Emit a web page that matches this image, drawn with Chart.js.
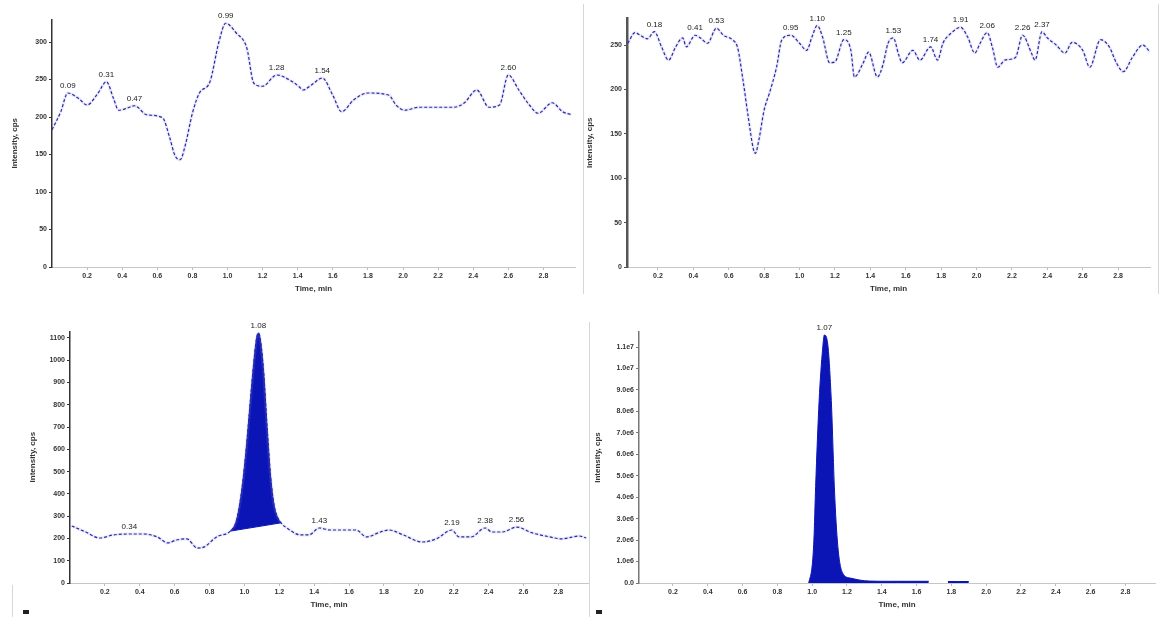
<!DOCTYPE html>
<html>
<head>
<meta charset="utf-8">
<title>Chromatograms</title>
<script src="https://cdn.jsdelivr.net/npm/chart.js@4.4.0/dist/chart.umd.min.js"></script>
<style>
  html, body { margin: 0; padding: 0; background: #fff; }
  body { width: 1160px; height: 617px; position: relative; overflow: hidden; }
  canvas { position: absolute; }
  .sep { position: absolute; width: 1px; background: #d6d6d6; }
  .mark { position: absolute; width: 6px; height: 4px; background: #222; }
</style>
</head>
<body>
<canvas id="c1" width="583" height="300" style="left:0;top:0"></canvas>
<canvas id="c2" width="577" height="300" style="left:583px;top:0"></canvas>
<canvas id="c3" width="590" height="317" style="left:0;top:300px"></canvas>
<canvas id="c4" width="570" height="317" style="left:590px;top:300px"></canvas>
<div class="sep" style="left:583px;top:4px;height:290px"></div>
<div class="sep" style="left:1158px;top:4px;height:290px"></div>
<div class="sep" style="left:589px;top:322px;height:295px"></div>
<div class="sep" style="left:12px;top:585px;height:32px"></div>
<div class="mark" style="left:23px;top:610px"></div>
<div class="mark" style="left:596px;top:610px"></div>
<script>
// Ticks del eje X (Time, min), comunes a los cuatro paneles
const xTicks = [0.2, 0.4, 0.6, 0.8, 1.0, 1.2, 1.4, 1.6, 1.8, 2.0, 2.2, 2.4, 2.6, 2.8];

// Panel 1 (arriba izquierda)
const p1Time = [0.00, 0.05, 0.09, 0.15, 0.20, 0.26, 0.31, 0.35, 0.38, 0.43, 0.47, 0.54, 0.63, 0.67, 0.70, 0.73, 0.76, 0.80, 0.84, 0.90, 0.95, 0.99, 1.05, 1.11, 1.15, 1.20, 1.28, 1.37, 1.41, 1.43, 1.48, 1.54, 1.60, 1.65, 1.72, 1.80, 1.92, 1.96, 2.01, 2.09, 2.29, 2.35, 2.42, 2.49, 2.55, 2.60, 2.66, 2.72, 2.77, 2.85, 2.91, 2.96];
const p1Int = [183, 207, 232, 225, 216, 231, 247, 225, 209, 212, 215, 203, 199, 173, 149, 143, 163, 205, 232, 247, 299, 325, 312, 292, 245, 241, 256, 247, 240, 236, 243, 252, 229, 207, 223, 232, 229, 216, 209, 213, 213, 219, 236, 213, 216, 256, 236, 216, 205, 219, 207, 203];
const p1Peaks = [0.09, 0.31, 0.47, 0.99, 1.28, 1.54, 2.60];
const y1Ticks = [0, 50, 100, 150, 200, 250, 300];

// Panel 2 (arriba derecha)
const p2Time = [0.03, 0.07, 0.10, 0.14, 0.18, 0.22, 0.26, 0.30, 0.34, 0.36, 0.41, 0.44, 0.48, 0.53, 0.57, 0.62, 0.65, 0.68, 0.71, 0.74, 0.75, 0.77, 0.80, 0.83, 0.87, 0.90, 0.95, 1.00, 1.04, 1.07, 1.10, 1.13, 1.17, 1.20, 1.25, 1.29, 1.31, 1.36, 1.39, 1.44, 1.47, 1.50, 1.53, 1.56, 1.58, 1.64, 1.68, 1.74, 1.78, 1.81, 1.86, 1.91, 1.95, 1.99, 2.02, 2.06, 2.09, 2.12, 2.16, 2.22, 2.26, 2.31, 2.33, 2.37, 2.40, 2.45, 2.50, 2.54, 2.60, 2.64, 2.70, 2.75, 2.79, 2.83, 2.88, 2.94, 2.98];
const p2Int = [252, 264, 261, 257, 265, 248, 233, 248, 258, 248, 261, 258, 252, 269, 261, 256, 247, 211, 169, 132, 128, 143, 177, 196, 225, 256, 261, 252, 244, 259, 272, 259, 230, 231, 256, 244, 214, 230, 242, 214, 227, 252, 258, 239, 230, 244, 233, 248, 233, 252, 264, 270, 259, 241, 252, 264, 247, 225, 233, 236, 261, 241, 233, 265, 258, 250, 241, 253, 244, 225, 256, 248, 230, 220, 236, 250, 242];
const p2Peaks = [0.18, 0.41, 0.53, 0.95, 1.10, 1.25, 1.53, 1.74, 1.91, 2.06, 2.26, 2.37];
const y2Ticks = [0, 50, 100, 150, 200, 250];

// Panel 3 (abajo izquierda) con pico integrado
const p3Time = [0.01, 0.09, 0.17, 0.25, 0.34, 0.42, 0.50, 0.56, 0.61, 0.67, 0.73, 0.77, 0.84, 0.92, 0.95, 0.97, 0.99, 1.01, 1.03, 1.05, 1.07, 1.08, 1.09, 1.11, 1.13, 1.15, 1.17, 1.19, 1.21, 1.26, 1.32, 1.37, 1.43, 1.49, 1.64, 1.70, 1.78, 1.83, 1.91, 2.02, 2.10, 2.19, 2.23, 2.30, 2.38, 2.42, 2.48, 2.56, 2.65, 2.75, 2.82, 2.92, 2.96];
const p3Int = [256, 229, 202, 216, 220, 220, 207, 180, 193, 198, 157, 162, 207, 233, 270, 340, 450, 600, 780, 960, 1100, 1122, 1100, 950, 700, 480, 350, 295, 270, 238, 216, 216, 247, 238, 238, 207, 229, 238, 216, 184, 198, 238, 207, 207, 247, 229, 229, 251, 225, 207, 198, 211, 202];
const p3Peaks = [0.34, 1.08, 1.43, 2.19, 2.38, 2.56];
const p3BaseTime = [0.92, 1.21];
const p3BaseInt = [233, 270];
const y3Ticks = [0, 100, 200, 300, 400, 500, 600, 700, 800, 900, 1000, 1100];

// Panel 4 (abajo derecha), null = tramo sin señal
const p4Time = [0.98, 1.00, 1.01, 1.02, 1.04, 1.06, 1.07, 1.09, 1.11, 1.13, 1.15, 1.18, 1.22, 1.27, 1.33, 1.45, 1.55, 1.67, 1.70, 1.78, 1.84, 1.90];
const p4Int = [0, 8.0e5, 2.0e6, 4.5e6, 8.5e6, 1.09e7, 1.156e7, 1.11e7, 8.5e6, 4.0e6, 1.5e6, 4.0e5, 2.3e5, 1.4e5, 9.0e4, 8.0e4, 8.0e4, 8.0e4, null, 7.0e4, 7.0e4, 7.0e4];
const p4Peaks = [1.07];
const y4Ticks = [0, 1e6, 2e6, 3e6, 4e6, 5e6, 6e6, 7e6, 8e6, 9e6, 1e7, 1.1e7];

const FAMILIA = '"Liberation Sans", Arial, sans-serif';
const AZUL_LINEA = '#2a2aa0';
const AZUL_PICO = '#0b15b5';

// Convierte dos listas en puntos {x, y}
function puntos(tiempos, valores) {
  return tiempos.map((t, i) => ({ x: t, y: valores[i] }));
}

// Formato tipo Analyst: 1.1e7, 9.0e6 ... 0.0
function formatoExp(v) {
  if (v === 0) return '0.0';
  const e = Math.floor(Math.log10(v) + 1e-9);
  return (v / Math.pow(10, e)).toFixed(1) + 'e' + e;
}

// Plugin para escribir el tiempo de retención encima de cada pico
const etiquetasPicos = {
  id: 'etiquetasPicos',
  afterDatasetsDraw(chart, args, opts) {
    if (!opts.tiempos) return;
    const { ctx } = chart;
    const x = chart.scales.x, y = chart.scales.y;
    const datos = chart.data.datasets[0].data;
    ctx.save();
    ctx.font = '8px ' + FAMILIA;
    ctx.fillStyle = '#222';
    ctx.textAlign = 'center';
    ctx.textBaseline = 'bottom';
    opts.tiempos.forEach(t => {
      const p = datos.find(d => Math.abs(d.x - t) < 1e-6);
      if (!p) return;
      ctx.fillText(t.toFixed(2), x.getPixelForValue(p.x), y.getPixelForValue(p.y) - 3);
    });
    ctx.restore();
  }
};

// Línea discontinua del cromatograma + halo suave
function curva(tiempos, valores) {
  return [
    {
      data: puntos(tiempos, valores),
      borderColor: AZUL_LINEA, borderWidth: 1.2, borderDash: [3, 2],
      pointRadius: 0, fill: false, cubicInterpolationMode: 'monotone'
    },
    {
      data: puntos(tiempos, valores),
      borderColor: 'rgba(140,140,235,0.18)', borderWidth: 3,
      pointRadius: 0, fill: false, cubicInterpolationMode: 'monotone'
    }
  ];
}

function crearPanel(id, datasets, p) {
  const fuenteTicks = { family: FAMILIA, size: 7, weight: 'bold' };
  const fuenteTitulo = { family: FAMILIA, size: 8, weight: 'bold' };
  return new Chart(document.getElementById(id), {
    type: 'line',
    data: { datasets },
    options: {
      responsive: false,
      animation: false,
      devicePixelRatio: 1,
      layout: { padding: { top: p.padTop, right: p.padRight, bottom: 0, left: 0 } },
      plugins: {
        legend: { display: false },
        tooltip: { enabled: false },
        etiquetasPicos: { tiempos: p.picos }
      },
      scales: {
        x: {
          type: 'linear', min: p.xMin, max: p.xMax,
          afterBuildTicks: s => { s.ticks = xTicks.map(v => ({ value: v })); },
          afterFit: s => { s.height = p.xHeight; },
          ticks: { font: fuenteTicks, color: '#333', padding: 2, maxRotation: 0, autoSkip: false,
                   callback: v => Number(v).toFixed(1) },
          grid: { drawOnChartArea: false, drawTicks: true, tickLength: 3, color: '#bbb' },
          border: { display: true, color: '#c6c6c6', width: 1 },
          title: { display: true, text: 'Time, min', font: fuenteTitulo, color: '#333',
                   padding: { top: 0, bottom: p.xTitlePad } }
        },
        y: {
          min: 0, max: p.yMax,
          afterBuildTicks: s => { s.ticks = p.yTicks.map(v => ({ value: v })); },
          afterFit: s => { s.width = p.yWidth; },
          ticks: { font: fuenteTicks, color: '#333', padding: 2, autoSkip: false, callback: p.yFmt },
          grid: { drawOnChartArea: false, drawTicks: true, tickLength: 3, color: p.yColor },
          border: { display: true, color: p.yColor, width: p.yBorderWidth, dash: p.yDash },
          title: { display: true, text: 'Intensity, cps', font: fuenteTitulo, color: '#333',
                   padding: { top: p.yTitlePad, bottom: 0 } }
        }
      }
    },
    plugins: [etiquetasPicos]
  });
}

// Panel 1
crearPanel('c1', curva(p1Time, p1Int), {
  xMin: 0, xMax: 2.98, yMax: 330, yTicks: y1Ticks, yFmt: v => String(v),
  padTop: 19.5, padRight: 8, xHeight: 33, yWidth: 52, xTitlePad: 6, yTitlePad: 10,
  yColor: '#333', yBorderWidth: 1.5, yDash: [2, 2], picos: p1Peaks
});

// Panel 2
crearPanel('c2', curva(p2Time, p2Int), {
  xMin: 0.025, xMax: 2.98, yMax: 280, yTicks: y2Ticks, yFmt: v => String(v),
  padTop: 18.4, padRight: 10, xHeight: 33, yWidth: 44, xTitlePad: 6, yTitlePad: 2,
  yColor: '#555', yBorderWidth: 2.5, yDash: [], picos: p2Peaks
});

// Panel 3: curva, área del pico entre la señal y la línea base de integración
const p3Sets = curva(p3Time, p3Int);
p3Sets.push({
  data: puntos(p3Time, p3Int).filter(d => d.x >= p3BaseTime[0] && d.x <= p3BaseTime[1]),
  borderColor: AZUL_PICO, backgroundColor: AZUL_PICO, borderWidth: 1,
  pointRadius: 0, fill: '+1', cubicInterpolationMode: 'monotone'
});
p3Sets.push({
  data: puntos(p3BaseTime, p3BaseInt),
  borderColor: AZUL_PICO, borderWidth: 1, pointRadius: 0, fill: false, tension: 0
});
crearPanel('c3', p3Sets, {
  xMin: 0, xMax: 2.97, yMax: 1130, yTicks: y3Ticks, yFmt: v => String(v),
  padTop: 31.3, padRight: 2, xHeight: 34, yWidth: 70, xTitlePad: 7, yTitlePad: 28,
  yColor: '#333', yBorderWidth: 1.5, yDash: [], picos: p3Peaks
});

// Panel 4: pico lleno hasta el origen
crearPanel('c4', [{
  data: puntos(p4Time, p4Int),
  borderColor: AZUL_PICO, backgroundColor: AZUL_PICO, borderWidth: 1,
  pointRadius: 0, fill: 'origin', spanGaps: false, cubicInterpolationMode: 'monotone'
}], {
  xMin: 0.005, xMax: 2.97, yMax: 1.17e7, yTicks: y4Ticks, yFmt: v => formatoExp(v),
  padTop: 32, padRight: 5, xHeight: 34, yWidth: 49, xTitlePad: 7, yTitlePad: 3,
  yColor: '#777', yBorderWidth: 1.5, yDash: [], picos: p4Peaks
});
</script>
</body>
</html>
